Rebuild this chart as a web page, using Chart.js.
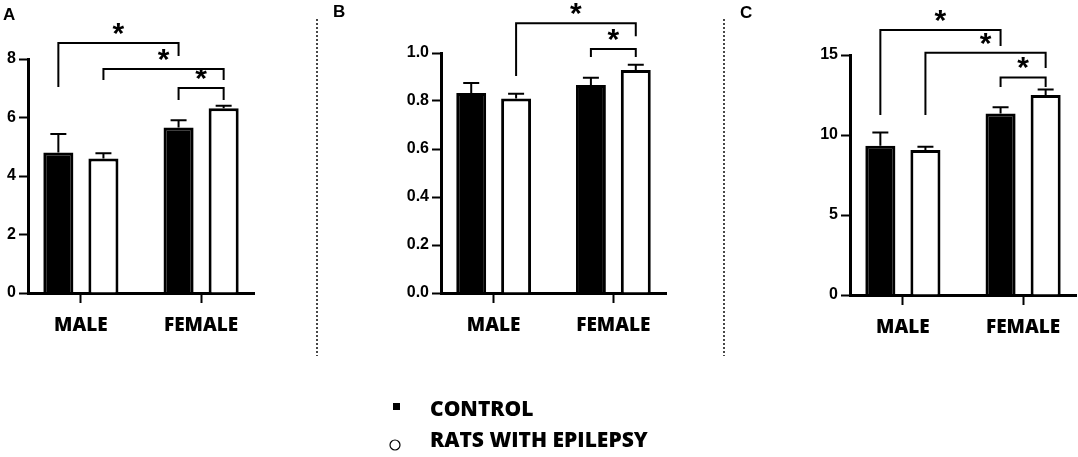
<!DOCTYPE html>
<html><head><meta charset="utf-8">
<script src="https://cdn.jsdelivr.net/npm/chart.js@4.4.0/dist/chart.umd.min.js"></script>
<style>
html,body{margin:0;padding:0;background:#fff;width:1078px;height:457px;overflow:hidden;}
body{position:relative;}
.cv{position:absolute;top:0;}
.plab{position:absolute;font:bold 17px 'Liberation Sans',Arial,sans-serif;line-height:17px;color:#000;}
.leg{position:absolute;left:430px;font:800 21px 'Open Sans',sans-serif;line-height:21px;color:#000;white-space:nowrap;}
</style></head><body>

<canvas id="cA" class="cv" style="left:0px" width="318" height="370"></canvas>
<canvas id="cB" class="cv" style="left:318px" width="406" height="370"></canvas>
<canvas id="cC" class="cv" style="left:724px" width="354" height="370"></canvas>

<div class="plab" style="left:3px;top:6px">A</div>
<div class="plab" style="left:333px;top:3px">B</div>
<div class="plab" style="left:740px;top:4px">C</div>

<svg style="position:absolute;left:0;top:0" width="1078" height="457">
  <line x1="317" y1="19" x2="317" y2="356" stroke="#333" stroke-width="1.8" stroke-dasharray="2 2"/>
  <line x1="724" y1="19" x2="724" y2="356" stroke="#333" stroke-width="1.8" stroke-dasharray="2 2"/>
  <rect x="393" y="403" width="7" height="7" fill="#000"/>
  <circle cx="395" cy="445" r="5" fill="#fff" stroke="#000" stroke-width="1.2"/>
</svg>
<div class="leg" style="top:398px">CONTROL</div>
<div class="leg" style="top:429px">RATS WITH EPILEPSY</div>

<script>
// ---- data ----
const CATEGORIES = ['MALE', 'FEMALE'];
const SERIES = ['CONTROL', 'RATS WITH EPILEPSY'];

const A_CONTROL = [4.80, 5.66];
const A_CONTROL_SEM = [0.64, 0.25];
const A_RATS = [4.60, 6.32];
const A_RATS_SEM = [0.18, 0.08];
const A_TICKS = [0, 2, 4, 6, 8];

const B_CONTROL = [0.833, 0.867];
const B_CONTROL_SEM = [0.042, 0.030];
const B_RATS = [0.810, 0.929];
const B_RATS_SEM = [0.020, 0.022];
const B_TICKS = [0, 0.2, 0.4, 0.6, 0.8, 1.0];

const C_CONTROL = [9.33, 11.35];
const C_CONTROL_SEM = [0.82, 0.38];
const C_RATS = [9.06, 12.50];
const C_RATS_SEM = [0.21, 0.35];
const C_TICKS = [0, 5, 10, 15];

// significance brackets: [dataset, category] ends, top and leg-end values
const A_BRACKETS = [
  {a:[0,0], b:[0,1], top:8.55, legA:7.04, legB:8.10},
  {a:[1,0], b:[1,1], top:7.66, legA:7.28, legB:7.28},
  {a:[0,1], b:[1,1], top:7.01, legA:6.60, legB:6.60}
];
const B_BRACKETS = [
  {a:[1,0], b:[1,1], top:1.124, legA:0.904, legB:1.070},
  {a:[0,1], b:[1,1], top:1.017, legA:0.983, legB:0.983}
];
const C_BRACKETS = [
  {a:[0,0], b:[0,1], top:16.56, legA:11.25, legB:15.56},
  {a:[1,0], b:[1,1], top:15.14, legA:11.25, legB:14.19},
  {a:[0,1], b:[1,1], top:13.60, legA:13.00, legB:13.00}
];

// ---- plugins ----
const errorBars = {
  id: 'errorBars',
  afterDatasetsDraw(chart) {
    const ctx = chart.ctx, ys = chart.scales.y;
    ctx.save();
    ctx.strokeStyle = '#000';
    ctx.lineWidth = 2;
    chart.data.datasets.forEach((ds, di) => {
      const meta = chart.getDatasetMeta(di);
      meta.data.forEach((bar, i) => {
        const v = ds.data[i].y, e = ds.sem[i];
        const yTop = ys.getPixelForValue(v + e);
        const yBar = ys.getPixelForValue(v);
        ctx.beginPath();
        ctx.moveTo(bar.x, yBar);
        ctx.lineTo(bar.x, yTop);
        ctx.moveTo(bar.x - 8, yTop);
        ctx.lineTo(bar.x + 8, yTop);
        ctx.stroke();
      });
    });
    ctx.restore();
  }
};

const brackets = {
  id: 'brackets',
  afterDraw(chart, args, opts) {
    const list = opts.items || [];
    const ctx = chart.ctx, ys = chart.scales.y;
    ctx.save();
    ctx.strokeStyle = '#000';
    ctx.lineWidth = 2;
    ctx.lineJoin = 'miter';
    ctx.font = "bold 30px 'Liberation Sans', Arial, sans-serif";
    ctx.textAlign = 'center';
    ctx.textBaseline = 'alphabetic';
    ctx.fillStyle = '#000';
    const m = ctx.measureText('*');
    const half = (m.actualBoundingBoxAscent - m.actualBoundingBoxDescent) / 2;
    list.forEach(br => {
      const xa = chart.getDatasetMeta(br.a[0]).data[br.a[1]].x;
      const xb = chart.getDatasetMeta(br.b[0]).data[br.b[1]].x;
      const yt = ys.getPixelForValue(br.top);
      ctx.beginPath();
      ctx.moveTo(xa, ys.getPixelForValue(br.legA));
      ctx.lineTo(xa, yt);
      ctx.lineTo(xb, yt);
      ctx.lineTo(xb, ys.getPixelForValue(br.legB));
      ctx.stroke();
      const yc = yt - 14;
      ctx.fillText('*', (xa + xb) / 2, yc + half);
    });
    ctx.restore();
  }
};

function makeChart(id, canvasW, canvasH, area, yW, xH, ctrl, ctrlSem, rats, ratsSem, ticks, fmt, brs) {
  const pad = {
    left: area.l - yW,
    right: canvasW - area.r,
    top: area.t,
    bottom: canvasH - area.b - xH
  };
  new Chart(document.getElementById(id), {
    type: 'bar',
    data: {
      datasets: [
        {label: SERIES[0], data: ctrl.map((v, i) => ({x: i, y: v})), sem: ctrlSem,
         backgroundColor: '#000', borderColor: '#000', borderWidth: 3},
        {label: SERIES[1], data: rats.map((v, i) => ({x: i, y: v})), sem: ratsSem,
         backgroundColor: '#fff', borderColor: '#000', borderWidth: 3}
      ]
    },
    options: {
      responsive: false,
      animation: false,
      events: [],
      layout: {padding: pad},
      datasets: {bar: {categoryPercentage: 0.75, barPercentage: 0.667}},
      plugins: {
        legend: {display: false},
        tooltip: {enabled: false},
        brackets: {items: brs}
      },
      scales: {
        x: {
          type: 'linear',
          min: -0.44, max: 1.44,
          offset: false,
          afterBuildTicks(s) { s.ticks = CATEGORIES.map((c, i) => ({value: i})); },
          afterFit(s) { s.height = xH; },
          ticks: {
            callback: (v) => CATEGORIES[v] ?? '',
            font: {family: "'Open Sans', sans-serif", weight: '800', size: 19},
            color: '#000', padding: 11, maxRotation: 0, autoSkip: false
          },
          grid: {offset: false, drawOnChartArea: false, drawTicks: true, tickLength: 10, tickWidth: 2, tickColor: '#000'},
          border: {display: true, color: '#000', width: 3}
        },
        y: {
          min: ticks[0], max: ticks[ticks.length - 1],
          afterBuildTicks(s) { s.ticks = ticks.map(v => ({value: v})); },
          afterFit(s) { s.width = yW; },
          ticks: {
            callback: (v) => fmt(v),
            font: {family: "'Liberation Sans', Arial, sans-serif", weight: 'bold', size: 16},
            color: '#000', padding: 3
          },
          grid: {drawOnChartArea: false, drawTicks: true, tickLength: 9, tickWidth: 2, tickColor: '#000'},
          border: {display: true, color: '#000', width: 3}
        }
      }
    },
    plugins: [errorBars, brackets]
  });
}

makeChart('cA', 318, 370, {l: 28, r: 254, t: 59, b: 293}, 28, 50,
  A_CONTROL, A_CONTROL_SEM, A_RATS, A_RATS_SEM, A_TICKS, v => String(v), A_BRACKETS);
makeChart('cB', 406, 370, {l: 123, r: 348, t: 53, b: 293}, 50, 50,
  B_CONTROL, B_CONTROL_SEM, B_RATS, B_RATS_SEM, B_TICKS, v => v.toFixed(1), B_BRACKETS);
makeChart('cC', 354, 370, {l: 126, r: 352, t: 55, b: 295}, 50, 50,
  C_CONTROL, C_CONTROL_SEM, C_RATS, C_RATS_SEM, C_TICKS, v => String(v), C_BRACKETS);
</script>
</body></html>
